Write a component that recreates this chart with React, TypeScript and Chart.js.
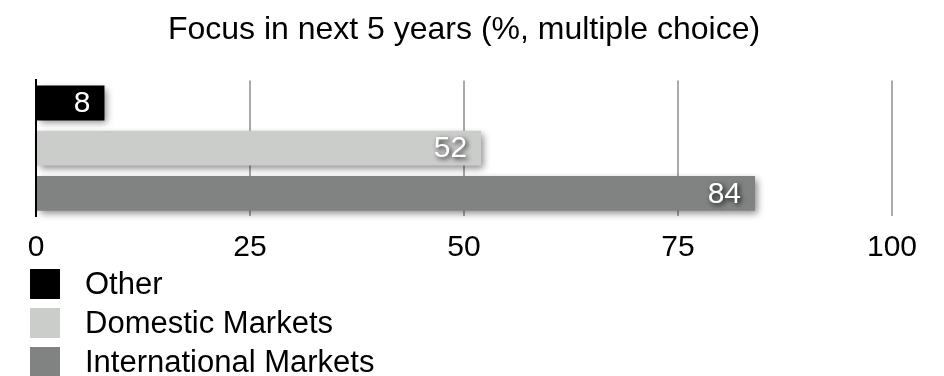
import React, { useEffect, useRef } from "react";
import { Chart, registerables } from "chart.js";

Chart.register(...registerables);

const titleText = "Focus in next 5 years (%, multiple choice)";
const categories = ["Other", "Domestic Markets", "International Markets"];
const seriesNames = ["Other", "Domestic Markets", "International Markets"];
const otherValues = [8, null, null];
const domesticValues = [null, 52, null];
const internationalValues = [null, null, 84];
const xTickValues = [0, 25, 50, 75, 100];
const seriesColors = ["#000000", "#cbcdcb", "#818382"];

const FONT = "'Liberation Sans', Arial, Helvetica, sans-serif";

const effectsPlugin = {
  id: "barEffects",
  beforeDatasetsDraw(chart: any) {
    const ctx = chart.ctx;
    ctx.save();
    ctx.shadowColor = "rgba(0,0,0,0.45)";
    ctx.shadowBlur = 7;
    ctx.shadowOffsetX = 3;
    ctx.shadowOffsetY = 3;
  },
  afterDatasetsDraw(chart: any) {
    const ctx = chart.ctx;
    ctx.restore();
    ctx.save();
    ctx.font = `30px ${FONT}`;
    ctx.textAlign = "right";
    ctx.textBaseline = "middle";
    ctx.fillStyle = "#ffffff";
    ctx.shadowColor = "rgba(0,0,0,0.85)";
    ctx.shadowBlur = 5;
    ctx.shadowOffsetX = 2;
    ctx.shadowOffsetY = 2;
    chart.data.datasets.forEach((ds: any, di: number) => {
      const meta = chart.getDatasetMeta(di);
      meta.data.forEach((el: any, i: number) => {
        const v = ds.data[i];
        if (v === null || v === undefined) return;
        ctx.fillText(String(v), el.x - 14, el.y + 1);
      });
    });
    ctx.restore();
  },
};

const legendPlugin = {
  id: "columnLegend",
  afterDraw(chart: any) {
    const ctx = chart.ctx;
    const top = chart.chartArea.bottom;
    ctx.save();
    ctx.font = `31px ${FONT}`;
    ctx.textAlign = "left";
    ctx.textBaseline = "middle";
    chart.data.datasets.forEach((ds: any, i: number) => {
      const cy = top + 68 + i * 39;
      ctx.fillStyle = ds.backgroundColor;
      ctx.fillRect(30, cy - 15, 30, 30);
      ctx.fillStyle = "#000000";
      ctx.fillText(ds.label, 85, cy + 1);
    });
    ctx.restore();
  },
};

export default function App() {
  const canvasRef = useRef<HTMLCanvasElement | null>(null);

  useEffect(() => {
    document.body.style.margin = "0";
    const canvas = canvasRef.current;
    if (!canvas) return;
    const valuesList = [otherValues, domesticValues, internationalValues];
    const chart = new Chart(canvas, {
      type: "bar",
      data: {
        labels: categories,
        datasets: seriesNames.map((name, i) => ({
          label: name,
          data: valuesList[i],
          backgroundColor: seriesColors[i],
          borderWidth: 0,
          grouped: false,
          barPercentage: 0.77,
          categoryPercentage: 1,
          clip: false as any,
        })),
      },
      options: {
        indexAxis: "y",
        animation: false,
        responsive: true,
        maintainAspectRatio: false,
        layout: { padding: { top: 0, left: 36, right: 52, bottom: 96 } },
        plugins: {
          legend: { display: false },
          tooltip: { enabled: false },
          title: {
            display: true,
            text: titleText,
            color: "#000000",
            font: { family: FONT, size: 32, weight: "normal" },
            padding: { top: 11, bottom: 31 },
          },
        },
        scales: {
          x: {
            type: "linear",
            min: 0,
            max: 100,
            afterBuildTicks: (scale: any) => {
              scale.ticks = xTickValues.map((v) => ({ value: v }));
            },
            grid: {
              drawTicks: false,
              color: (c: any) => (c.tick && c.tick.value === 0 ? "rgba(0,0,0,0)" : "#a9a9a9"),
              lineWidth: 2,
            },
            border: { display: false },
            ticks: {
              color: "#000000",
              font: { family: FONT, size: 30 },
              padding: 14,
              maxRotation: 0,
              autoSkip: false,
            },
          },
          y: {
            type: "category",
            grid: { display: false, drawTicks: false },
            border: { display: true, color: "#000000", width: 2 },
            ticks: { display: false },
          },
        },
      },
      plugins: [effectsPlugin, legendPlugin],
    });
    return () => chart.destroy();
  }, []);

  return (
    <div style={{ position: "relative", width: 944, height: 376, overflow: "hidden" }}>
      <canvas ref={canvasRef} />
    </div>
  );
}
